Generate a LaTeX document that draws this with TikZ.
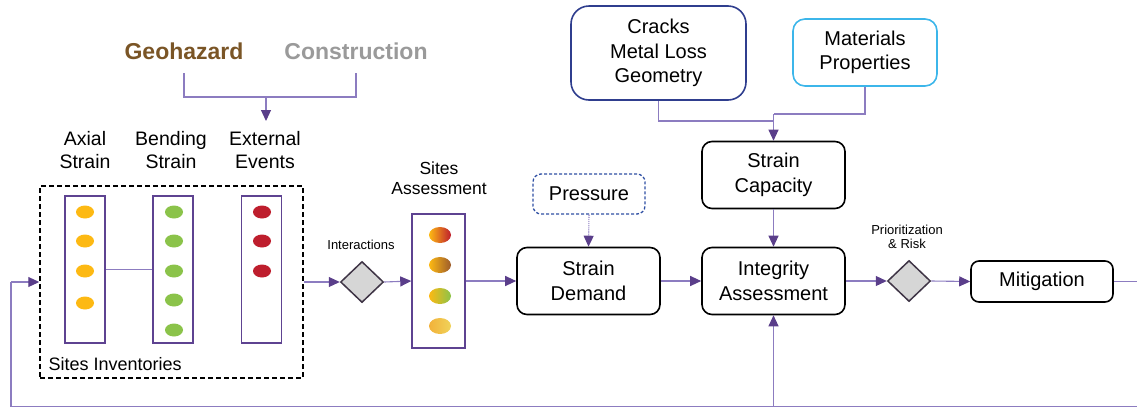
\documentclass[tikz,border=0pt]{standalone}
\usepackage{fontspec}
\setmainfont{Liberation Sans}
\usetikzlibrary{arrows.meta,shapes.geometric,calc}

\definecolor{geo}{HTML}{7A5526}
\definecolor{cons}{HTML}{9A9A9A}
\definecolor{conn}{HTML}{8C7CC0}
\definecolor{tipc}{HTML}{5A3E8A}
\definecolor{colbox}{HTML}{5E4391}
\definecolor{darkblue}{HTML}{2F3E8E}
\definecolor{skyblue}{HTML}{3CB6EA}
\definecolor{dashblue}{HTML}{2E4FA3}
\definecolor{amber}{HTML}{FDB913}
\definecolor{leaf}{HTML}{8BC34A}
\definecolor{crimson}{HTML}{BE1E2D}
\definecolor{rust}{HTML}{9C5B2B}
\definecolor{sun}{HTML}{F0D35A}
\definecolor{tang}{HTML}{F2B23A}
\definecolor{diafill}{HTML}{D6D6D6}
\definecolor{diaedge}{HTML}{3F3546}

\tikzset{
  txt/.style={font=\fontsize{20}{24.5}\selectfont, align=center},
  box/.style={txt, draw=black, line width=1.6pt, rounded corners=10pt,
              minimum width=143pt, minimum height=67pt, inner sep=0pt},
  colbox/.style={draw=colbox, line width=1.5pt, minimum width=40pt,
                 minimum height=147pt, inner sep=0pt},
  dia/.style={diamond, aspect=1.05, draw=diaedge, fill=diafill, line width=1.5pt,
              minimum width=43pt, minimum height=41pt, inner sep=0pt},
  head/.style={font=\fontsize{19.5}{23}\selectfont, align=center},
  small/.style={font=\fontsize{13}{14.5}\selectfont, align=center},
  link/.style={draw=conn, line width=1.1pt},
  flow/.style={link, -{Triangle[length=11pt,width=10pt,color=tipc]}},
}

\begin{document}
\begin{tikzpicture}[x=1pt,y=-1pt]
\useasboundingbox (0,0) rectangle (1137,408);

% ---------- sources ----------
\node[font=\fontsize{23}{26}\selectfont\bfseries, text=geo] (geoh) at (184,51) {Geohazard};
\node[font=\fontsize{23}{26}\selectfont\bfseries, text=cons] (cons) at (356,51) {Construction};
\coordinate (geoL) at (184,73);
\coordinate (consR) at (356,73);
\coordinate (join) at (266,97);
\draw[link] (geoL) |- (join) -| (consR);

% ---------- strain inventories ----------
\node[head] (axlbl) at (85,150.5) {Axial\\Strain};
\node[head] (bdlbl) at (171,150.5) {Bending\\Strain};
\node[head] (exlbl) at (265,150.5) {External\\Events};
\draw[flow] (join) -- (266,121);

\node[draw=black, dashed, dash pattern=on 5pt off 3pt, line width=1.5pt,
      minimum width=263pt, minimum height=192pt, inner sep=0pt] (inv) at (171.5,282) {};
\node[colbox] (axcol) at (85,269.5) {};
\node[colbox] (bdcol) at (173,269.5) {};
\node[colbox] (excol) at (261.5,269.5) {};
\draw[link] (axcol.east) -- (bdcol.west);
\node[anchor=west, font=\fontsize{18}{20}\selectfont] (invlbl) at (45,364) {Sites Inventories};

\foreach \y in {212,241,271,303}
  \fill[amber] (85,\y) ellipse [x radius=9pt, y radius=6.5pt];
\foreach \y in {212,241,271,300,330}
  \fill[leaf] (174,\y) ellipse [x radius=9pt, y radius=6.5pt];
\foreach \y in {212,241,271}
  \fill[crimson] (262,\y) ellipse [x radius=9pt, y radius=6.5pt];

% ---------- interactions and site assessment ----------
\node[dia] (inter) at (362,282) {};
\node[small] (interlbl) at (361,245) {Interactions};
\draw[flow] (inv.east) -- (inter.west);

\node[draw=colbox, line width=1.5pt, minimum width=53pt, minimum height=134pt,
      inner sep=0pt] (sites) at (438.5,281) {};
\node[font=\fontsize{17.5}{20}\selectfont, align=center] (siteslbl) at (439,178) {Sites\\Assessment};
\draw[flow] (inter.east) -- (sites.west);

\shade[left color=amber, middle color=leaf, right color=crimson]
  (440,235) ellipse [x radius=11pt, y radius=8pt];
\shade[left color=amber, middle color=leaf!80!olive, right color=rust]
  (440,265) ellipse [x radius=11pt, y radius=8pt];
\shade[left color=amber, middle color=leaf, right color=leaf]
  (440,296) ellipse [x radius=11pt, y radius=8pt];
\shade[shading angle=60, left color=tang, right color=sun]
  (440,326) ellipse [x radius=11pt, y radius=8pt];

% ---------- demand ----------
\node[box] (demand) at (588.5,281) {Strain\\Demand};
\node[txt, draw=dashblue, dashed, dash pattern=on 3pt off 2pt, line width=1.3pt,
      rounded corners=8pt, minimum width=112pt, minimum height=40pt, inner sep=0pt]
      (press) at (589,194) {Pressure};
\draw[flow] (sites.east) -- (demand.west);
\draw[flow, densely dotted] (press.south) -- (demand.north);

% ---------- capacity ----------
\node[txt, draw=darkblue, line width=1.6pt, rounded corners=18pt,
      minimum width=175pt, minimum height=94pt, inner sep=0pt] (cracks) at (658.5,53)
      {Cracks\\Metal Loss\\Geometry};
\node[txt, draw=skyblue, line width=1.6pt, rounded corners=12pt,
      minimum width=144pt, minimum height=67pt, inner sep=0pt] (mat) at (865,52.5)
      {Materials\\Properties};
\node[box] (cap) at (773.5,175) {Strain\\Capacity};
\coordinate (crturn) at (773.5,121);
\coordinate (mtturn) at (773.5,114);
\draw[link] (cracks.south) |- (crturn);
\draw[link] (mat.south) |- (mtturn);
\draw[flow] (mtturn) -- (cap.north);

% ---------- integrity and mitigation ----------
\node[box] (integ) at (773.5,281) {Integrity\\Assessment};
\draw[flow] (cap.south) -- (integ.north);
\draw[flow] (demand.east) -- (integ.west);

\node[dia] (prio) at (909,281) {};
\node[small] (priolbl) at (907,237) {Prioritization\\\& Risk};
\draw[flow] (integ.east) -- (prio.west);

\node[box, minimum width=142pt, minimum height=41pt, rounded corners=8pt] (mitig) at (1042,281.5) {Mitigation};
\draw[flow] (prio.east) -- (mitig.west);

% ---------- feedback loop ----------
\coordinate (loopR) at (1150,281.5);
\coordinate (loopBL) at (11,406.5);
\coordinate (loopUp) at (11,282);
\draw[link] (mitig.east) -- (loopR) |- (loopBL) -- (loopUp);
\draw[flow] (loopUp) -- (inv.west);
\draw[flow] (integ.south |- loopBL) -- (integ.south);
\end{tikzpicture}
\end{document}
